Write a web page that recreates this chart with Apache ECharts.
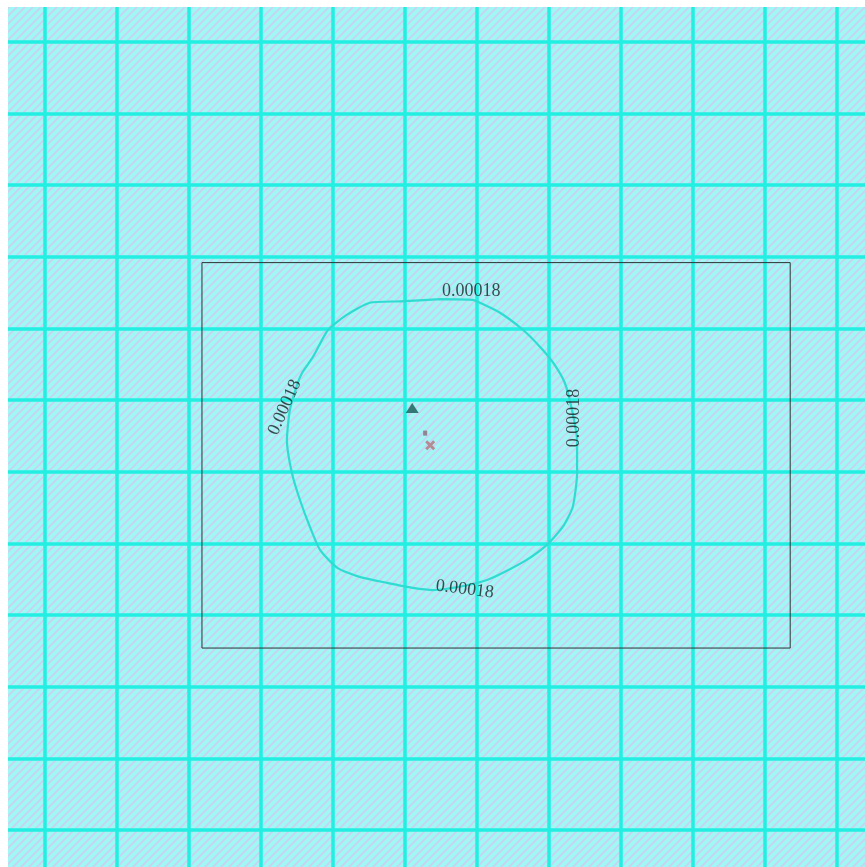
<!DOCTYPE html>
<html>
<head>
<meta charset="utf-8">
<script src="https://cdn.jsdelivr.net/npm/echarts@6/dist/echarts.min.js"></script>
<style>
	html, body { margin: 0; padding: 0; background: #fff; }
	#plot { width: 865px; height: 867px; }
</style>
</head>
<body>
<div id="plot"></div>
<script>
// contour line (grid units, one cell = 1)
var contourX = [5.49, 5.94, 6.04, 6.32, 6.64, 6.88, 7.06, 7.22, 7.32, 7.39, 7.39, 7.33, 7.19, 6.97, 6.69, 6.36, 6.14, 5.83, 5.39, 5.11, 4.75, 4.38, 4.06, 3.82, 3.68, 3.54, 3.43, 3.36, 3.40, 3.50, 3.57, 3.72, 3.93, 4.19, 4.51, 4.93, 5.49];
var contourY = [7.41, 7.40, 7.36, 7.22, 6.98, 6.74, 6.52, 6.24, 5.86, 5.44, 4.98, 4.51, 4.23, 3.98, 3.77, 3.59, 3.49, 3.41, 3.35, 3.38, 3.45, 3.53, 3.66, 3.91, 4.23, 4.61, 4.98, 5.44, 5.86, 6.21, 6.38, 6.60, 6.98, 7.19, 7.36, 7.38, 7.41];
var contourLevel = '0.00018';
var labelX = [5.92, 3.33, 7.35, 5.83];
var labelY = [7.52, 5.90, 5.75, 3.36];
var labelAngle = [0, 66, 90, -7];

// study area box
var boxX = [2.18, 10.35, 10.35, 2.18, 2.18];
var boxY = [7.92, 7.92, 2.54, 2.54, 7.92];

var station = [5.10, 5.89];
var source = [5.35, 5.37];
var sourceTag = [5.28, 5.54];

function zip(a, b) {
	return a.map(function (v, i) { return [v, b[i]]; });
}

// hatch pattern for the plot area
var hatch = document.createElement('canvas');
hatch.width = 8;
hatch.height = 8;
var hc = hatch.getContext('2d');
hc.fillStyle = '#a0f7f3';
hc.fillRect(0, 0, 8, 8);
hc.strokeStyle = '#c9d0f2';
hc.lineWidth = 1.6;
hc.beginPath();
hc.moveTo(-2, 10); hc.lineTo(10, -2);
hc.moveTo(-6, 6); hc.lineTo(6, -6);
hc.moveTo(2, 14); hc.lineTo(14, 2);
hc.stroke();

var chart = echarts.init(document.getElementById('plot'), null, {width: 865, height: 867});

var gridLine = {
	show: true,
	showMinLine: false,
	showMaxLine: false,
	lineStyle: { color: '#22efe1', width: 3.5 }
};

var labelSeries = labelX.map(function (x, i) {
	return {
		type: 'scatter',
		symbol: 'circle',
		symbolSize: 1,
		itemStyle: { color: 'rgba(0,0,0,0)' },
		z: 5,
		silent: true,
		data: [[x, labelY[i]]],
		label: {
			show: true,
			position: 'inside',
			formatter: contourLevel,
			rotate: labelAngle[i],
			color: '#142222',
			fontFamily: 'Liberation Serif',
			fontSize: 18
		}
	};
});

var option = {
	backgroundColor: '#fff',
	animation: false,
	grid: {
		left: 8, top: 7, right: 0, bottom: 0,
		show: true,
		borderWidth: 0,
		backgroundColor: { image: hatch, repeat: 'repeat' }
	},
	xAxis: {
		type: 'value',
		min: -0.514, max: 11.389,
		splitNumber: 12,
		axisLine: { show: false },
		axisTick: { show: false },
		axisLabel: { show: false },
		splitLine: gridLine
	},
	yAxis: {
		type: 'value',
		min: -0.516, max: 11.488,
		splitNumber: 12,
		axisLine: { show: false },
		axisTick: { show: false },
		axisLabel: { show: false },
		splitLine: gridLine
	},
	series: [
		{
			type: 'line',
			data: zip(boxX, boxY),
			showSymbol: false,
			lineStyle: { color: '#2b3434', width: 1 },
			silent: true
		},
		{
			type: 'line',
			data: zip(contourX, contourY),
			showSymbol: false,
			smooth: 0.2,
			lineStyle: { color: '#30dcd2', width: 2.2 },
			silent: true
		},
		{
			type: 'scatter',
			data: [station],
			symbol: 'triangle',
			symbolSize: [13, 10],
			itemStyle: { color: '#155a55' }
		},
		{
			type: 'scatter',
			data: [source],
			symbol: 'path://M0,2 L2,0 L5,3 L8,0 L10,2 L7,5 L10,8 L8,10 L5,7 L2,10 L0,8 L3,5 Z',
			symbolSize: 10,
			itemStyle: { color: '#b8707a' }
		},
		{
			type: 'scatter',
			data: [sourceTag],
			symbol: 'rect',
			symbolSize: [4, 5],
			itemStyle: { color: '#8a6a78' }
		}
	].concat(labelSeries)
};

chart.setOption(option);
</script>
</body>
</html>
